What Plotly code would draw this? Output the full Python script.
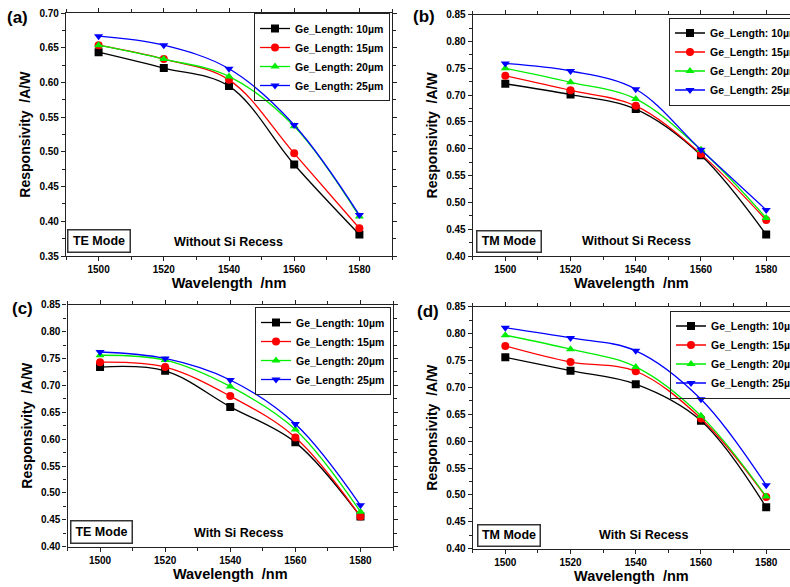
import plotly.graph_objects as go

wavelength = [1500, 1520, 1540, 1560, 1580]
series_names = ["Ge_Length: 10µm", "Ge_Length: 15µm", "Ge_Length: 20µm", "Ge_Length: 25µm"]

# (a) TE mode, without Si recess
a_10 = [0.644, 0.621, 0.595, 0.482, 0.381]
a_15 = [0.654, 0.634, 0.604, 0.498, 0.390]
a_20 = [0.654, 0.634, 0.609, 0.537, 0.407]
a_25 = [0.667, 0.654, 0.620, 0.539, 0.409]
# (b) TM mode, without Si recess
b_10 = [0.721, 0.701, 0.674, 0.588, 0.440]
b_15 = [0.736, 0.709, 0.680, 0.590, 0.467]
b_20 = [0.750, 0.724, 0.693, 0.598, 0.471]
b_25 = [0.759, 0.745, 0.711, 0.598, 0.486]
# (c) TE mode, with Si recess
c_10 = [0.734, 0.727, 0.660, 0.594, 0.456]
c_15 = [0.743, 0.734, 0.680, 0.603, 0.456]
c_20 = [0.756, 0.747, 0.698, 0.618, 0.465]
c_25 = [0.762, 0.750, 0.710, 0.628, 0.477]
# (d) TM mode, with Si recess
d_10 = [0.756, 0.731, 0.706, 0.638, 0.477]
d_15 = [0.777, 0.747, 0.730, 0.642, 0.496]
d_20 = [0.797, 0.771, 0.738, 0.647, 0.497]
d_25 = [0.811, 0.792, 0.768, 0.678, 0.518]

panel_labels = ["(a)", "(b)", "(c)", "(d)"]
mode_labels = ["TE Mode", "TM Mode", "TE Mode", "TM Mode"]
recess_labels = ["Without Si Recess", "Without Si Recess", "With Si Recess", "With Si Recess"]

W, H = 790, 587
colors = ["#000000", "#ff0000", "#00ee00", "#0000ff"]
symbols = ["square", "circle", "triangle-up", "triangle-down"]
FONT = "Liberation Sans, Arial, sans-serif"

panels = [
    dict(data=[a_10, a_15, a_20, a_25], x0=66, x1=392, top=13.3, bot=256, xr=[1490, 1590], yr=[0.35, 0.70], cut=False,
         leg=(390, 13), box=(67, 131, 229, 253), rec=(228, 242), lab=(17, 17)),
    dict(data=[b_10, b_15, b_20, b_25], x0=472.7, x1=790, top=14.7, bot=256, xr=[1490, 1587.3], yr=[0.40, 0.85], cut=True,
         leg=(669, 17.5), box=(476, 541.7, 230, 252.7), rec=(636, 241.3), lab=(424, 16)),
    dict(data=[c_10, c_15, c_20, c_25], x0=67.5, x1=393, top=304.7, bot=546.7, xr=[1490, 1590], yr=[0.40, 0.85], cut=False,
         leg=(391, 307), box=(70, 133, 520, 544), rec=(239, 532.7), lab=(22, 308)),
    dict(data=[d_10, d_15, d_20, d_25], x0=472.7, x1=790, top=306.7, bot=548.7, xr=[1490, 1587.3], yr=[0.40, 0.85], cut=True,
         leg=(670, 310.5), box=(476.7, 540.7, 524, 546.7), rec=(644, 535), lab=(428, 311)),
]

fig = go.Figure()
layout = dict(
    width=W, height=H, paper_bgcolor="white", plot_bgcolor="white",
    margin=dict(l=0, r=0, t=0, b=0, autoexpand=False),
    font=dict(family=FONT, color="#000"),
    annotations=[], shapes=[],
)

for i, p in enumerate(panels):
    k = "" if i == 0 else str(i + 1)
    leg = "legend" if i == 0 else "legend" + str(i + 1)
    for j in range(4):
        fig.add_trace(go.Scatter(
            x=wavelength, y=p["data"][j], name=series_names[j],
            mode="lines+markers",
            line=dict(color=colors[j], width=1.3, shape="spline", smoothing=1.0),
            marker=dict(symbol=symbols[j], size=8, color=colors[j]),
            xaxis="x" + k, yaxis="y" + k, legend=leg,
        ))
    ax = dict(
        domain=[p["x0"] / W, p["x1"] / W], range=p["xr"], anchor="y" + k,
        showline=True, linecolor="#222", linewidth=1.2, mirror="ticks",
        ticks="outside", ticklen=4, tickcolor="#222", tick0=1500, dtick=20,
        minor=dict(ticks="outside", ticklen=3, dtick=10, tick0=1490, tickcolor="#222"),
        showgrid=False, zeroline=False, automargin=False,
        tickfont=dict(size=10, family=FONT, weight="bold"),
        title=dict(text="Wavelength  /nm", font=dict(size=14.5, family=FONT, weight="bold"), standoff=3),
    )
    ay = dict(
        domain=[1 - p["bot"] / H, 1 - p["top"] / H], range=p["yr"], anchor="x" + k,
        showline=True, linecolor="#222", linewidth=1.2, mirror=(False if p["cut"] else "ticks"),
        ticks="outside", ticklen=4, tickcolor="#222", dtick=0.05, tickformat=".2f",
        minor=dict(ticks="outside", ticklen=3, dtick=0.025, tickcolor="#222"),
        showgrid=False, zeroline=False, automargin=False,
        tickfont=dict(size=10, family=FONT, weight="bold"),
        title=dict(text="Responsivity  /A/W", font=dict(size=14, family=FONT, weight="bold"), standoff=5),
    )
    layout["xaxis" + k] = ax
    layout["yaxis" + k] = ay
    lx, ly = p["leg"]
    layout[leg] = dict(
        x=lx / W, y=1 - ly / H, xanchor=("left" if p["cut"] else "right"), yanchor="top",
        xref="paper", yref="paper",
        bordercolor="#222", borderwidth=1, bgcolor="rgba(255,255,255,0)",
        font=dict(size=10.5, family=FONT, weight="bold"), tracegroupgap=0,
    )
    # mode box
    bx0, bx1, by0, by1 = p["box"]
    layout["annotations"].append(dict(
        text=mode_labels[i], xref="paper", yref="paper",
        x=(bx0 + bx1) / 2 / W, y=1 - (by0 + by1) / 2 / H, xanchor="center", yanchor="middle",
        showarrow=False, font=dict(size=12.5, family=FONT, weight="bold"),
        bordercolor="#333", borderwidth=1.5, borderpad=2, bgcolor="white",
        width=bx1 - bx0 - 7, height=by1 - by0 - 7,
    ))
    rx, ry = p["rec"]
    layout["annotations"].append(dict(
        text=recess_labels[i], xref="paper", yref="paper",
        x=rx / W, y=1 - ry / H, xanchor="center", yanchor="middle",
        showarrow=False, font=dict(size=12.5, family=FONT, weight="bold"),
    ))
    tx, ty = p["lab"]
    layout["annotations"].append(dict(
        text=panel_labels[i], xref="paper", yref="paper",
        x=tx / W, y=1 - ty / H, xanchor="center", yanchor="middle",
        showarrow=False, font=dict(size=17, family=FONT, weight="bold"),
    ))

fig.update_layout(**layout)
fig.write_html("out.html", config={"displayModeBar": False},
               post_script="document.body.style.margin='0';document.body.style.overflow='hidden';")
